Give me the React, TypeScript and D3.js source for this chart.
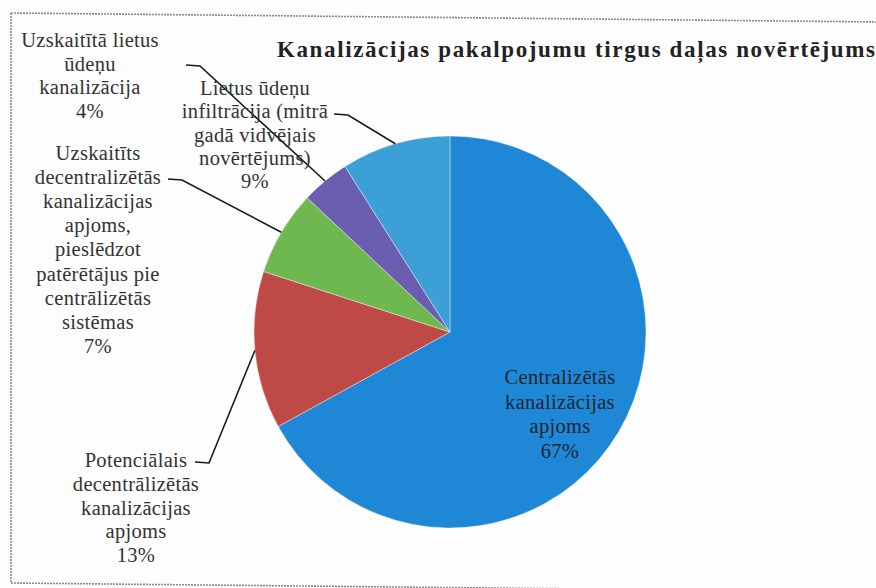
import React from "react";
import * as d3 from "d3";

const categories = [
  "Centralizētās kanalizācijas apjoms",
  "Potenciālais decentrālizētās kanalizācijas apjoms",
  "Uzskaitīts decentralizētās kanalizācijas apjoms, pieslēdzot patērētājus pie centrālizētās sistēmas",
  "Uzskaitītā lietus ūdeņu kanalizācija",
  "Lietus ūdeņu infiltrācija (mitrā gadā vidvējais novērtējums)",
];
const values = [67, 13, 7, 4, 9];
const labelLines = [
  ["Centralizētās", "kanalizācijas", "apjoms", "67%"],
  ["Potenciālais", "decentrālizētās", "kanalizācijas", "apjoms", "13%"],
  ["Uzskaitīts", "decentralizētās", "kanalizācijas", "apjoms,", "pieslēdzot", "patērētājus pie", "centrālizētās", "sistēmas", "7%"],
  ["Uzskaitītā lietus", "ūdeņu", "kanalizācija", "4%"],
  ["Lietus ūdeņu", "infiltrācija (mitrā", "gadā vidvējais", "novērtējums)", "9%"],
];
const colors = ["#1f88d6", "#bf4a45", "#6fb84f", "#6a5eb0", "#3ca0d6"];
const title = "Kanalizācijas pakalpojumu tirgus daļas novērtējums";

// layout: label centre x, first baseline y, leader start (x,y) or null, line height
const labelLayout = [
  { cx: 560, y: 384, lh: 24.5, leader: null, fill: "#1c2430" },
  { cx: 136, y: 467, lh: 23.8, leader: [195, 462], fill: "#333" },
  { cx: 98, y: 160, lh: 24.1, leader: [168, 179], fill: "#333" },
  { cx: 90, y: 47, lh: 23.6, leader: [186, 65], fill: "#333" },
  { cx: 255, y: 95, lh: 23.3, leader: [334, 114], fill: "#333" },
];

const SERIF = "'Liberation Serif', 'Times New Roman', 'DejaVu Serif', serif";

export default function App() {
  const W = 876, H = 588;
  const cx = 450, cy = 332, r = 196;
  const pie = d3.pie<number>().sort(null).value((d) => d);
  const arcs = pie(values);
  const arc = d3.arc<d3.PieArcDatum<number>>().innerRadius(0).outerRadius(r);

  return (
    <svg width={W} height={H} style={{ position: "absolute", left: 0, top: 0, background: "#fdfdfd" }}>
      <rect x={0} y={0} width={W} height={H} fill="#fdfdfd" />
      <path d="M11,13 L880,22 M11,13 L11,583 L880,592" fill="none" stroke="#8a8a8a" strokeWidth={1.6} strokeDasharray="2 1" />
      <text x={277} y={57} fontFamily={SERIF} fontSize={23} fontWeight="bold" fill="#222" textLength={598} lengthAdjust="spacing">{title}</text>
      <g transform={`translate(${cx},${cy})`}>
        {arcs.map((a, i) => (
          <path key={categories[i]} d={arc(a) || ""} fill={colors[i]} stroke="#fdfdfd" strokeWidth={0.4} />
        ))}
      </g>
      {arcs.map((a, i) => {
        const L = labelLayout[i];
        if (!L.leader) return null;
        const mid = (a.startAngle + a.endAngle) / 2;
        const px = cx + Math.sin(mid) * r;
        const py = cy - Math.cos(mid) * r;
        const [sx, sy] = L.leader;
        return (
          <path key={"l" + i} d={`M${sx},${sy} L${sx + 14},${sy + 1} L${px},${py}`} fill="none" stroke="#1a1a1a" strokeWidth={1.6} />
        );
      })}
      {labelLines.map((lines, i) => {
        const L = labelLayout[i];
        return (
          <text key={"t" + i} fontFamily={SERIF} textAnchor="middle" fontSize={20.5} letterSpacing={0.3} fill={L.fill}>
            {lines.map((ln, j) => (
              <tspan key={j} x={L.cx} y={L.y + j * L.lh}>{ln}</tspan>
            ))}
          </text>
        );
      })}
    </svg>
  );
}
